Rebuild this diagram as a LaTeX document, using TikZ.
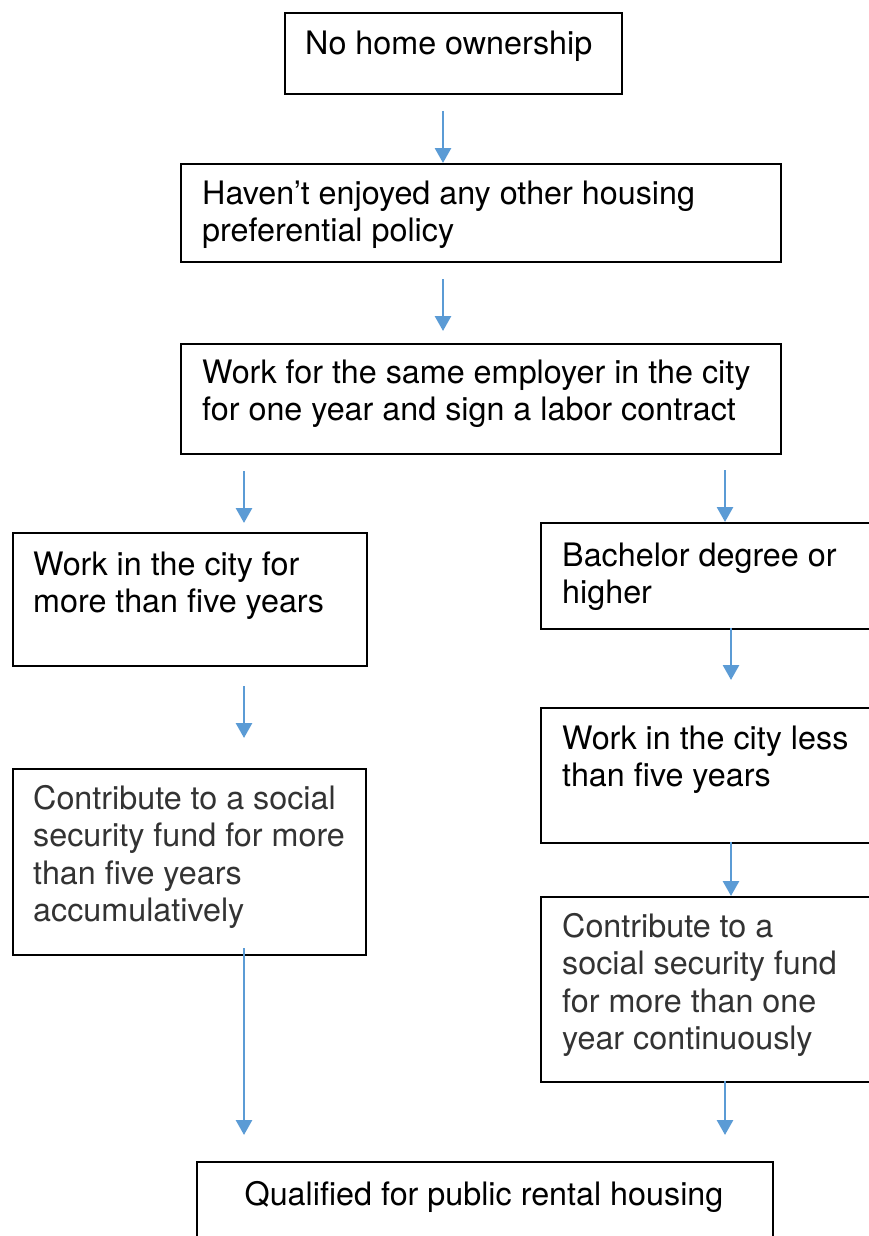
\documentclass[tikz,border=0pt]{standalone}
\usepackage{fontspec}
\setmainfont{TeX Gyre Heros}
\usetikzlibrary{arrows.meta}
\definecolor{flowblue}{HTML}{5B9BD5}
\definecolor{softblack}{HTML}{333333}
\begin{document}
\begin{tikzpicture}[x=1pt,y=-1pt,
  box/.style={draw=black,line width=2.4pt,inner sep=0pt,anchor=north west},
  % texts are placed by the baseline of their last line
  boxtext/.style={inner sep=0pt,anchor=base west,align=left,
    font=\fontsize{32.3pt}{37.5pt}\selectfont},
  greytext/.style={boxtext,text=softblack},
  flow/.style={draw=flowblue,line width=2.8pt,-{Triangle[width=16pt,length=15pt]}}]
\useasboundingbox (0,0) rectangle (869,1236);
\clip (0,0) rectangle (869,1236);

% boxes
\node[box,minimum width=337pt,minimum height=81pt]  (own)   at (284,12)  {};
\node[box,minimum width=600pt,minimum height=98pt]  (pref)  at (180,163) {};
\node[box,minimum width=600pt,minimum height=110pt] (work)  at (180,343) {};
\node[box,minimum width=354pt,minimum height=133pt] (five)  at (12,532)  {};
\node[box,minimum width=380pt,minimum height=106pt] (bach)  at (540,522) {};
\node[box,minimum width=353pt,minimum height=186pt] (accum) at (12,768)  {};
\node[box,minimum width=380pt,minimum height=135pt] (less)  at (540,707) {};
\node[box,minimum width=380pt,minimum height=185pt] (cont)  at (540,896) {};
\node[box,minimum width=576pt,minimum height=120pt] (qual)  at (196,1161) {};

% texts
\node[boxtext] (ownT)   at (305,55)    {No home ownership};
\node[boxtext] (prefT)  at (202,241.5) {Haven’t enjoyed any other housing\\preferential policy};
\node[boxtext] (workT)  at (202,420.5) {Work for the same employer in the city\\for one year and sign a labor contract};
\node[boxtext] (fiveT)  at (33,612.5)  {Work in the city for\\more than five years};
\node[boxtext] (bachT)  at (562,603.5) {Bachelor degree or\\higher};
\node[greytext] (accumT) at (33,921.5) {Contribute to a social\\security fund for more\\than five years\\accumulatively};
\node[boxtext] (lessT)  at (562,786.5) {Work in the city less\\than five years};
\node[greytext] (contT) at (562,1049.5) {Contribute to a\\social security fund\\for more than one\\year continuously};
\node[boxtext,anchor=base] (qualT) at (484,1205) {Qualified for public rental housing};

% arrow ends
\coordinate (a1s) at (443,111);
\coordinate (a2s) at (443,279);  \coordinate (a2e) at (443,331);
\coordinate (a3s) at (244,471);  \coordinate (a3e) at (244,523);
\coordinate (a4s) at (725,470);
\coordinate (a5s) at (244,686);  \coordinate (a5e) at (244,738);
\coordinate (a6s) at (731,628);  \coordinate (a6e) at (731,680);
\coordinate (a7s) at (731,842);
\coordinate (a8s) at (244,948);  \coordinate (a8e) at (244,1135);
\coordinate (a9s) at (725,1081); \coordinate (a9e) at (725,1135);

% connectors
\draw[flow] (a1s) -- (a1s |- pref.north);
\draw[flow] (a2s) -- (a2e);
\draw[flow] (a3s) -- (a3e);
\draw[flow] (a4s) -- (a4s |- bach.north);
\draw[flow] (a5s) -- (a5e);
\draw[flow] (a6s) -- (a6e);
\draw[flow] (a7s) -- (a7s |- cont.north);
\draw[flow] (a8s) -- (a8e);
\draw[flow] (a9s) -- (a9e);
\end{tikzpicture}
\end{document}
